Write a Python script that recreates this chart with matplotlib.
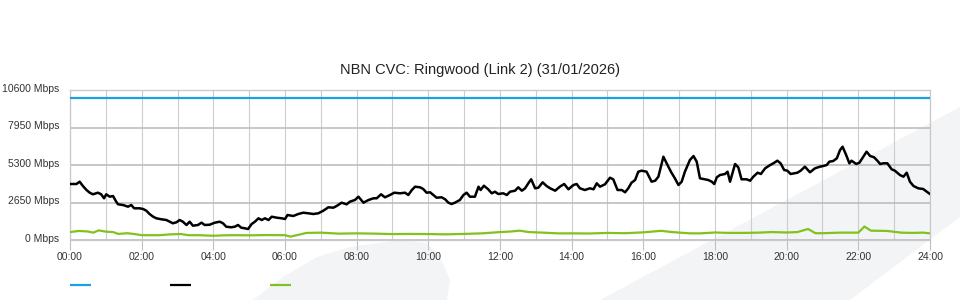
"""NBN CVC utilisation chart for Ringwood (Link 2), 31/01/2026."""

import matplotlib

matplotlib.use("Agg")
import matplotlib.pyplot as plt
from matplotlib.transforms import ScaledTranslation

plt.rcParams["font.family"] = ["Liberation Sans", "DejaVu Sans"]

TITLE = "NBN CVC: Ringwood (Link 2) (31/01/2026)"

# CVC capacity (blue, flat)
capacity_hours = [0.0, 24.0]
capacity_mbps = [10000, 10000]

# main traffic (black)
traffic_hours = [
    0.0, 0.18, 0.27, 0.36, 0.46, 0.55, 0.64, 0.78, 0.87, 0.95, 1.01, 1.11, 1.20, 1.29, 1.34,
    1.48, 1.62, 1.71, 1.79, 1.94, 2.04, 2.13, 2.22, 2.32, 2.41, 2.55, 2.69, 2.78, 2.87, 2.97,
    3.06, 3.15, 3.25, 3.34, 3.43, 3.57, 3.67, 3.76, 3.90, 4.04, 4.18, 4.27, 4.36, 4.50, 4.60,
    4.69, 4.78, 4.88, 4.97, 5.07, 5.16, 5.26, 5.35, 5.44, 5.54, 5.63, 5.77, 5.91, 6.00, 6.07,
    6.23, 6.37, 6.51, 6.65, 6.79, 6.93, 7.07, 7.21, 7.35, 7.44, 7.58, 7.72, 7.81, 7.95, 8.05,
    8.19, 8.33, 8.47, 8.56, 8.68, 8.79, 8.93, 9.05, 9.21, 9.35, 9.44, 9.54, 9.63, 9.77, 9.86,
    9.95, 10.05, 10.14, 10.23, 10.37, 10.47, 10.56, 10.65, 10.74, 10.88, 10.98, 11.07, 11.16,
    11.30, 11.40, 11.46, 11.55, 11.67, 11.77, 11.86, 11.95, 12.09, 12.19, 12.28, 12.42, 12.51,
    12.61, 12.70, 12.79, 12.87, 12.98, 13.07, 13.19, 13.30, 13.40, 13.54, 13.67, 13.79, 13.91,
    14.05, 14.14, 14.23, 14.37, 14.51, 14.61, 14.70, 14.79, 14.93, 15.07, 15.16, 15.28, 15.40,
    15.49, 15.58, 15.67, 15.77, 15.86, 15.95, 16.09, 16.23, 16.33, 16.42, 16.56, 16.65, 16.77,
    16.88, 16.98, 17.07, 17.16, 17.30, 17.40, 17.49, 17.58, 17.72, 17.81, 17.91, 17.98, 18.05,
    18.14, 18.28, 18.35, 18.42, 18.56, 18.65, 18.74, 18.88, 18.98, 19.07, 19.19, 19.28, 19.40,
    19.54, 19.63, 19.74, 19.83, 19.93, 20.02, 20.11, 20.21, 20.30, 20.39, 20.51, 20.65, 20.79,
    20.93, 21.02, 21.12, 21.19, 21.30, 21.40, 21.49, 21.56, 21.66, 21.75, 21.81, 21.94, 22.03,
    22.14, 22.23, 22.33, 22.44, 22.53, 22.61, 22.70, 22.81, 22.93, 23.02, 23.16, 23.26, 23.35,
    23.44, 23.54, 23.67, 23.81, 23.91, 24.00,
]
traffic_mbps = [
    3957, 3957, 4120, 3816, 3533, 3343, 3229, 3343, 3229, 2947, 3229, 3060, 3109, 2707, 2523,
    2473, 2353, 2473, 2240, 2240, 2191, 2071, 1837, 1647, 1533, 1463, 1413, 1293, 1180, 1251,
    1413, 1293, 1060, 1293, 1011, 1060, 1223, 1060, 1081, 1223, 1293, 1180, 940, 897, 940,
    1060, 869, 827, 777, 1131, 1293, 1533, 1413, 1533, 1413, 1647, 1576, 1533, 1484, 1767,
    1696, 1837, 1929, 1887, 1837, 1887, 2071, 2311, 2283, 2403, 2636, 2523, 2707, 2827, 3060,
    2636, 2827, 2947, 2947, 3229, 3017, 3180, 3343, 3300, 3343, 3180, 3533, 3767, 3724, 3600,
    3343, 3371, 3180, 2989, 3017, 2876, 2636, 2544, 2636, 2827, 3180, 3343, 3060,
    3060, 3767, 3533, 3837, 3583, 3300, 3413, 3251, 3300, 3180, 3413, 3484, 3724,
    3484, 3653, 4007, 4290, 3653, 3696, 4077, 3816, 3653, 3484, 3767, 3957, 3583,
    3887, 3957, 3653, 3533, 3653, 3583, 4007, 3767, 3936, 4402, 4290, 3533, 3533,
    3371, 3653, 4049, 4240, 4827, 4897, 4827, 4120, 4190, 4473, 5887, 5420, 4827,
    4360, 3887, 4120, 4827, 5653, 5936, 5533, 4360, 4290, 4240, 4120, 3957, 4431,
    4593, 4664, 4827, 4120, 5371, 5137, 4290, 4290, 4190, 4473, 4756, 4664, 5067,
    5300, 5420, 5604, 5420, 4947, 4897, 4664, 4713, 4756, 4897, 5180, 4784, 5067,
    5180, 5229, 5300, 5533, 5583, 5774, 6360, 6593, 6007, 5420, 5604, 5371, 5463,
    5887, 6240, 5936, 5844, 5604, 5371, 5420, 5420, 4996, 4897, 4593, 4473, 4756,
    4120, 3816, 3653, 3604, 3413, 3251,
]

# second series (green)
green_hours = [
    0.0, 0.25, 0.5, 0.65, 0.8, 1.0, 1.2, 1.35, 1.6, 1.8, 2.0, 2.5, 2.8, 3.1, 3.3, 3.6, 4.0,
    4.3, 4.6, 5.0, 5.5, 6.0, 6.15, 6.35, 6.6, 7.0, 7.5, 8.0, 8.5, 9.0, 9.5, 10.0, 10.5, 11.0,
    11.5, 12.0, 12.3, 12.55, 12.8, 13.2, 13.6, 14.0, 14.5, 15.0, 15.5, 16.0, 16.5, 16.8, 17.3,
    17.6, 18.0, 18.4, 18.8, 19.2, 19.6, 20.0, 20.3, 20.6, 20.8, 21.0, 21.5, 22.0, 22.17, 22.35,
    22.8, 23.2, 23.5, 23.8, 24.0,
]
green_mbps = [
    560, 640, 600, 520, 680, 590, 560, 430, 480, 420, 340, 340, 400, 420, 340, 340, 300,
    330, 340, 330, 350, 340, 240, 350, 500, 520, 450, 470, 450, 420, 430, 420, 400, 430,
    470, 560, 600, 660, 560, 520, 470, 470, 460, 500, 480, 540, 650, 560, 470,
    470, 530, 500, 500, 520, 560, 530, 560, 780, 480, 480, 520, 520, 950, 660,
    640, 520, 500, 520, 470,
]

Y_TICKS = [0, 2650, 5300, 7950, 10600]
X_TICKS = list(range(0, 25, 2))

BLUE = "#1aa1e1"
GREEN = "#80c21e"
WATERMARK = "#f3f4f6"


def main():
    fig = plt.figure(figsize=(9.6, 3.0), dpi=100)

    # background layer in pixel coords: watermark + legend swatches
    bg = fig.add_axes([0, 0, 1, 1], zorder=0)
    bg.set_xlim(0, 960)
    bg.set_ylim(300, 0)
    bg.axis("off")
    bg.fill([253, 283, 317, 350, 400, 427, 440, 450, 447],
            [300, 277, 257, 247, 240, 243, 257, 280, 300], color=WATERMARK, lw=0)
    bg.fill([600, 960, 960, 850], [300, 107, 217, 300], color=WATERMARK, lw=0)
    for x0, c in [(70, BLUE), (170, "black"), (270, GREEN)]:
        bg.plot([x0, x0 + 21], [285, 285], color=c, lw=1.6, solid_capstyle="butt")

    ax = fig.add_axes([70 / 960, 0.2, 860 / 960, 0.5], zorder=1)
    ax.patch.set_alpha(0)

    ax.plot(capacity_hours, capacity_mbps, color=BLUE, lw=1.6, zorder=3)
    ax.plot(green_hours, green_mbps, color=GREEN, lw=1.6, zorder=3)
    ax.plot(traffic_hours, traffic_mbps, color="black", lw=1.8, zorder=4)

    ax.set_xlim(0, 24)
    ax.set_ylim(0, 10600)
    ax.set_xticks(X_TICKS)
    ax.set_xticklabels([f"{h:02d}:00" for h in X_TICKS])
    ax.set_xticks(range(1, 24, 2), minor=True)
    ax.set_yticks(Y_TICKS)
    ax.set_yticklabels([f"{v} Mbps" for v in Y_TICKS])

    ax.grid(axis="x", which="both", color="#cdcdcd", lw=0.8)
    ax.grid(axis="y", which="major", color="#bdbdbd", lw=1.2)
    ax.set_axisbelow(True)

    ax.tick_params(axis="x", which="major", length=7.5, width=0.8, color="#c0c0c0",
                   labelsize=7.5, labelcolor="#333333", pad=1.5)
    ax.tick_params(axis="x", which="minor", length=0)
    ax.tick_params(axis="y", length=0, labelsize=7.5, labelcolor="#333333", pad=7.5)
    for lab in ax.get_yticklabels():
        lab.set_transform(lab.get_transform() + ScaledTranslation(0, 1.5 / 72, fig.dpi_scale_trans))
    for sp in ax.spines.values():
        sp.set_color("#c8c8c8")
        sp.set_linewidth(0.9)

    fig.text(0.5, 1 - 70 / 300, TITLE, ha="center", va="center", fontsize=10.5, color="#222222")

    fig.savefig("out.png", dpi=100)
    plt.close(fig)


if __name__ == "__main__":
    main()
